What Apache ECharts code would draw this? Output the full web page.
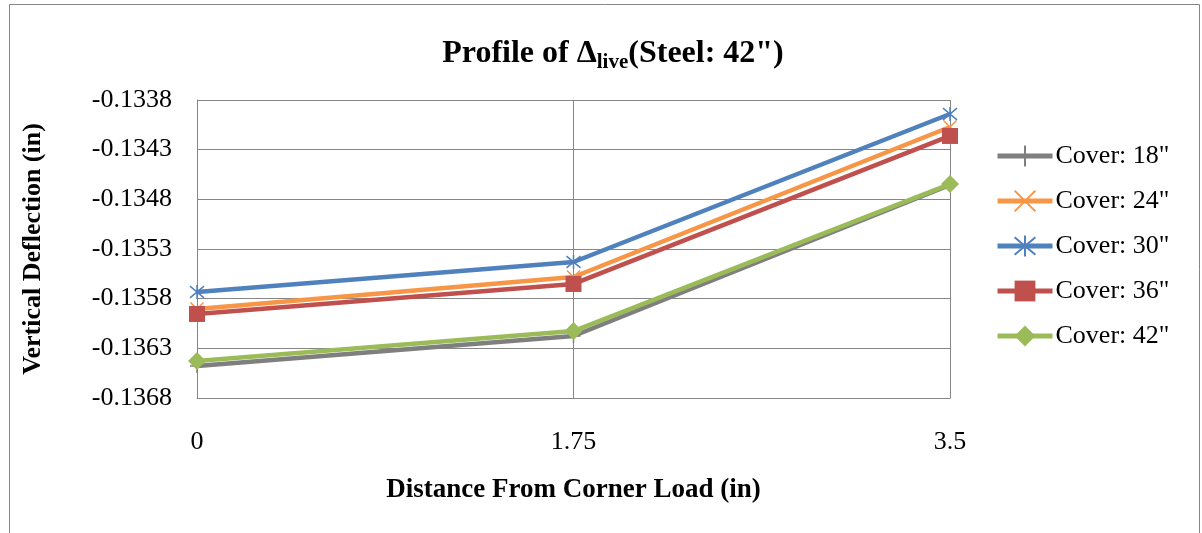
<!DOCTYPE html>
<html>
<head>
<meta charset="utf-8">
<script src="https://cdn.jsdelivr.net/npm/echarts@6/dist/echarts.min.js"></script>
<style>
  html, body { margin: 0; padding: 0; background: #fff; }
  #chart { width: 1202px; height: 533px; }
</style>
</head>
<body>
<div id="chart"></div>
<script>
// Distance positions along the profile (in)
const distances = ['0', '1.75', '3.5'];

// Vertical live-load deflection (in) for each cover depth
const cover18 = [-0.136478, -0.136176, -0.134656];
const cover24 = [-0.135904, -0.135582, -0.134072];
const cover30 = [-0.135733, -0.135431, -0.133941];
const cover36 = [-0.135954, -0.135652, -0.134162];
const cover42 = [-0.136428, -0.136126, -0.134646];

const seriesNames = ['Cover: 18"', 'Cover: 24"', 'Cover: 30"', 'Cover: 36"', 'Cover: 42"'];
const seriesData = [cover18, cover24, cover30, cover36, cover42];
const seriesColors = ['#7f7f7f', '#f79646', '#4f81bd', '#c0504d', '#9bbb59'];

const serif = '"Liberation Serif", "Times New Roman", serif';

const plusPath = 'path://M5,0L5,10M0,5L10,5';
const crossPath = 'path://M0,0L10,10M10,0L0,10';
const starPath = 'path://M0,0L10,10M10,0L0,10M5,-1L5,11';
const markers = [
  { symbol: plusPath, size: 14, border: 1.5 },
  { symbol: crossPath, size: 13, border: 1.5 },
  { symbol: starPath, size: 14, border: 1.5 },
  { symbol: 'rect', size: 16, border: 0 },
  { symbol: 'diamond', size: 18, border: 0 }
];

const chart = echarts.init(document.getElementById('chart'));

chart.setOption({
  animation: false,
  backgroundColor: '#ffffff',
  title: {
    text: '{a|Profile of Δ}{b|live}{a|(Steel: 42")}',
    left: 608,
    top: 30,
    textAlign: 'center',
    textStyle: {
      rich: {
        a: { fontFamily: serif, fontSize: 32, fontWeight: 'bold', color: '#000' },
        b: { fontFamily: serif, fontSize: 21, fontWeight: 'bold', color: '#000', padding: [17, 0, 0, 0] }
      }
    }
  },
  graphic: [{
    type: 'rect',
    shape: { x: 9.5, y: 4.5, width: 1190, height: 540 },
    style: { fill: 'none', stroke: '#868686', lineWidth: 1 },
    silent: true
  }],
  legend: {
    orient: 'vertical',
    left: 990,
    top: 138,
    itemWidth: 55,
    itemHeight: 26,
    itemGap: 19,
    lineStyle: { width: 5 },
    textStyle: { fontFamily: serif, fontSize: 26, color: '#000', padding: [0, 0, 0, -2] },
    data: seriesNames
  },
  grid: { left: 197, right: 252, top: 100, bottom: 135 },
  xAxis: {
    type: 'category',
    data: distances,
    boundaryGap: false,
    name: 'Distance From Corner Load (in)',
    nameLocation: 'middle',
    nameGap: 79,
    nameTextStyle: { fontFamily: serif, fontSize: 27, fontWeight: 'bold', color: '#000' },
    axisLine: { lineStyle: { color: '#868686', width: 1 } },
    axisTick: { show: false },
    axisLabel: { fontFamily: serif, fontSize: 26, color: '#000', margin: 31 },
    splitLine: { show: true, lineStyle: { color: '#868686', width: 1 } }
  },
  yAxis: {
    type: 'value',
    min: -0.1368,
    max: -0.1338,
    interval: 0.0005,
    name: 'Vertical Deflection (in)',
    nameLocation: 'middle',
    nameGap: 151,
    nameTextStyle: { fontFamily: serif, fontSize: 26, fontWeight: 'bold', color: '#000' },
    axisLine: { show: true, lineStyle: { color: '#868686', width: 1 } },
    axisTick: { show: false },
    axisLabel: {
      fontFamily: serif, fontSize: 26, color: '#000', margin: 25,
      formatter: v => v.toFixed(4)
    },
    splitLine: { show: true, lineStyle: { color: '#868686', width: 1 } }
  },
  series: seriesNames.map((name, i) => ({
    name: name,
    type: 'line',
    data: seriesData[i],
    symbol: markers[i].symbol,
    symbolSize: markers[i].size,
    showAllSymbol: true,
    lineStyle: { color: seriesColors[i], width: 4.5 },
    itemStyle: {
      color: seriesColors[i],
      borderColor: seriesColors[i],
      borderWidth: markers[i].border
    },
    z: 2 + i
  }))
});
</script>
</body>
</html>
